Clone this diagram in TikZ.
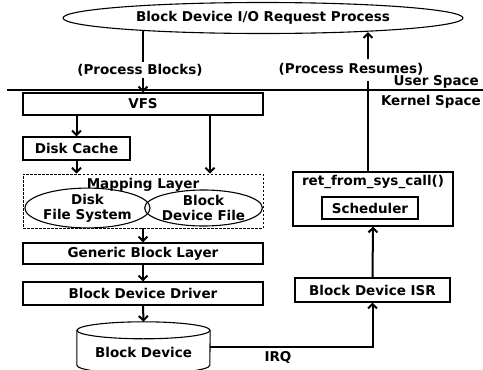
\documentclass[tikz,border=0pt]{standalone}
\usepackage{fontspec}
\setmainfont{DejaVu Sans}
\usetikzlibrary{shapes.geometric,arrows.meta}

\begin{document}
\begin{tikzpicture}[x=1pt,y=-1pt,
  font=\bfseries\fontsize{13.5}{15}\selectfont,
  box/.style={draw,line width=1.1pt,inner sep=0pt},
  conn/.style={line width=2pt},
  arr/.style={line width=2pt,-{Straight Barb[length=4.5pt,width=9pt]}},
  sep/.style={line width=2.6pt}]
\useasboundingbox (0,0) rectangle (483,370);

%PROZESS (oben)
\node [ellipse,draw,line width=1.1pt,inner sep=0pt,minimum width=400,minimum height=31] (proc) at (263,18) {Block Device I/O Request Process};
\node [inner sep=2pt] (lblPB) at (140,70) {(Process Blocks)};
\node [inner sep=2pt] (lblPR) at (351,69) {(Process Resumes)};
\coordinate (gapLow) at (368,81);
\coordinate (gapHigh) at (368,59);

%TRENNLINIE
\coordinate (sepL) at (7,90);
\coordinate (sepR) at (483,90);
\draw [sep] (sepL) -- (sepR);
\node [anchor=east,inner sep=1pt] (user) at (480,82) {User Space};
\node [anchor=east,inner sep=1pt] (kernel) at (482,102) {Kernel Space};

%LINKE SPALTE
\node [box,minimum width=240,minimum height=22] (vfs) at (143,104) {VFS};
\node [box,minimum width=107,minimum height=23] (dc) at (76.5,148.5) {Disk Cache};
\node [box,line width=0.8pt,dash pattern=on 2.5pt off 1.5pt,minimum width=240,minimum height=54] (map) at (143,201) {};
\node (maplbl) at (143,185) {Mapping Layer};
\node [ellipse,draw,line width=1.1pt,inner sep=0pt,minimum width=115,minimum height=31,align=center] (dfs) at (87.5,208) {Disk\\File System};
\node [ellipse,draw,line width=1.1pt,inner sep=0pt,minimum width=113,minimum height=31,align=center] (bdf) at (203.5,208) {Block\\Device File};
\coordinate (cacheX) at (210,0);
\node [box,minimum width=240,minimum height=21] (gbl) at (143,253.5) {Generic Block Layer};
\node [box,minimum width=240,minimum height=23] (drv) at (143,293.5) {Block Device Driver};

%ZYLINDER
\node [minimum width=133,minimum height=50,inner sep=0pt] (dev) at (143.5,347) {};
\node (devlbl) at (143.5,352) {Block Device};
\draw [box] ([yshift=-8.5pt]dev.north) ellipse [x radius=66.5pt,y radius=8.5pt];
\draw [box] ([yshift=-8.5pt]dev.north west) -- ([yshift=7pt]dev.south west)
  arc [start angle=180,end angle=360,x radius=66.5pt,y radius=8.5pt] -- ([yshift=-8.5pt]dev.north east);

%RECHTE SPALTE
\node [box,minimum width=160,minimum height=54] (ret) at (373,199) {};
\node (retlbl) at (373,182) {ret\_from\_sys\_call()};
\node [box,minimum width=96,minimum height=22] (sched) at (370,208) {Scheduler};
\node [box,minimum width=155,minimum height=24] (isr) at (372.5,290) {Block Device ISR};
\node (irq) at (278,357) {IRQ};

%VERBINDUNGEN
\draw [conn,shorten <=-3pt] (proc.south -| vfs.north) -- (lblPB.north -| vfs.north);
\draw [arr] (lblPB.south -| vfs.north) -- (vfs.north);
\draw [arr] (vfs.south -| dc.north) -- (dc.north);
\draw [arr] (vfs.south -| cacheX) -- (map.north -| cacheX);
\draw [arr] (dc.south) -- (map.north -| dc.south);
\draw [arr] (map.south) -- (gbl.north);
\draw [arr] (gbl.south) -- (drv.north);
\draw [arr] (drv.south) -- (dev.north);
\draw [arr] (dev.east) -- (dev.east -| isr.south) -- (isr.south);
\draw [arr] (isr.north) -- (ret.south);
\draw [conn] (ret.north -| gapLow) -- (gapLow);
\draw [arr,shorten >=-2pt] (gapHigh) -- (proc.south -| gapHigh);

\end{tikzpicture}
\end{document}
